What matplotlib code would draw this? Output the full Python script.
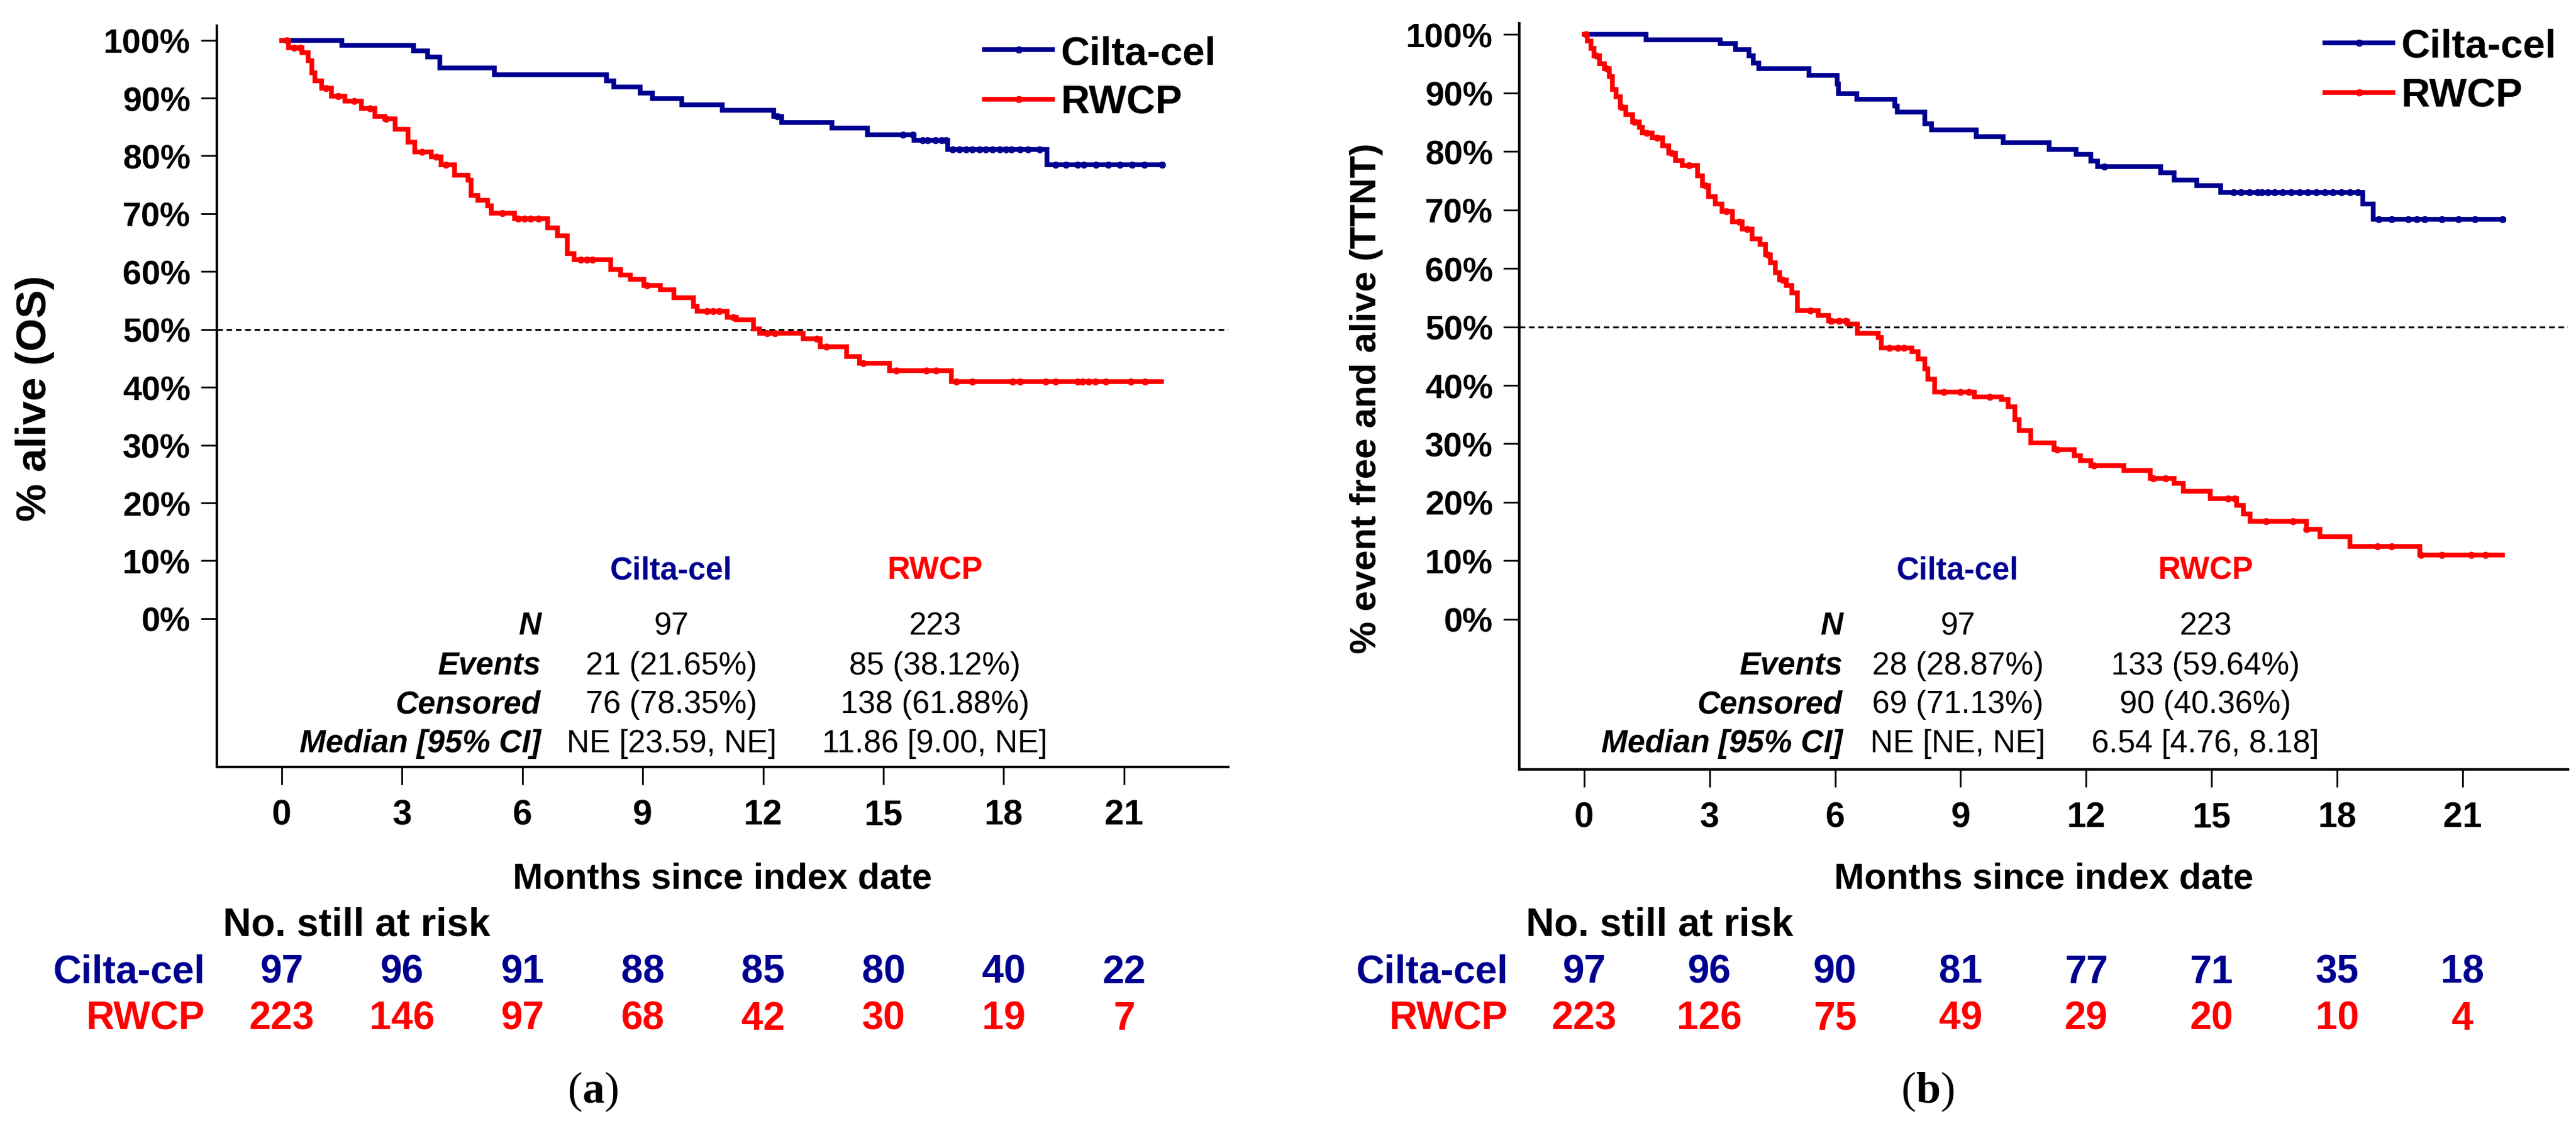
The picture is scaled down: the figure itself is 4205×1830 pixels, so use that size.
import numpy as np
import matplotlib
matplotlib.use("Agg")
import matplotlib.pyplot as plt
import matplotlib.transforms as mtransforms
from matplotlib.lines import Line2D

plt.rcParams['font.family'] = ['Liberation Sans', 'DejaVu Sans']
plt.rcParams['mathtext.fontset'] = 'custom'
plt.rcParams['mathtext.rm'] = 'Liberation Serif'
plt.rcParams['mathtext.bf'] = 'Liberation Serif:bold'

W, H = 4205, 1831
BLUE = '#000090'
RED = '#FF0000'

# ---------------- data ----------------
months = [0, 3, 6, 9, 12, 15, 18, 21]
groups = ['Cilta-cel', 'RWCP']
stat_labels = ['N', 'Events', 'Censored', 'Median [95% CI]']

# (a) overall survival
os_cilta_t = [0, 1.49, 3.28, 3.64, 3.94, 5.30, 8.10, 8.28, 8.94, 9.24, 9.97, 10.98,
              12.26, 12.47, 13.71, 14.60, 15.77, 16.60, 19.08, 21.95]
os_cilta_s = [100, 99.1, 98.2, 97.1, 95.2, 94.0, 93.0, 91.9, 90.9, 89.9, 88.8, 87.9,
              86.8, 85.8, 84.8, 83.7, 82.7, 81.1, 78.5, 78.5]
os_cilta_cens = [12.35, 15.49, 15.73, 15.98, 16.1, 16.3, 16.45, 16.56, 16.73, 16.9, 17.06,
                 17.22, 17.4, 17.55, 17.72, 17.9, 18.05, 18.2, 18.4, 18.6, 18.9, 19.29,
                 19.55, 19.84, 20.0, 20.3, 20.6, 20.9, 21.2, 21.5, 21.95]
os_rwcp_t = [0, 0.17, 0.50, 0.66, 0.75, 0.83, 0.99, 1.24, 1.57, 1.99, 2.32, 2.57, 2.82,
             3.15, 3.31, 3.73, 3.97, 4.31, 4.64, 4.72, 4.89, 5.13, 5.22, 5.80, 6.63, 6.87,
             7.12, 7.29, 8.20, 8.45, 8.69, 9.02, 9.44, 9.77, 10.27, 10.35, 11.10, 11.34,
             11.76, 11.92, 13.00, 13.42, 14.08, 14.41, 15.15, 16.69, 21.94]
os_rwcp_s = [100, 98.7, 97.8, 96.5, 94.3, 93.0, 91.7, 90.3, 89.5, 88.2, 86.8, 86.4, 84.6,
             82.4, 80.7, 79.8, 78.5, 76.7, 75.8, 73.2, 72.3, 71.4, 70.1, 69.1, 67.5, 66.2,
             63.1, 62.0, 60.3, 59.4, 58.7, 57.6, 56.9, 55.5, 54.0, 53.2, 52.1, 51.7,
             50.1, 49.3, 48.4, 47.0, 45.3, 44.2, 42.9, 41.0, 41.0]
os_rwcp_cens = [0.12, 0.3, 0.45, 1.1, 1.4, 1.8, 2.2, 2.6, 3.5, 3.85, 4.1, 5.5, 5.9, 6.05,
                6.2, 6.4, 7.45, 7.6, 7.75, 9.1, 10.6, 10.75, 10.9, 11.26, 12.09, 12.3,
                13.33, 13.58, 14.5, 15.32, 16.07, 16.31, 16.81, 17.22, 18.22, 18.41, 19.05,
                19.29, 19.84, 19.96, 20.12, 20.29, 20.54, 21.17, 21.53]
os_cilta_stats = ['97', '21 (21.65%)', '76 (78.35%)', 'NE [23.59, NE]']
os_rwcp_stats = ['223', '85 (38.12%)', '138 (61.88%)', '11.86 [9.00, NE]']
os_risk_cilta = [97, 96, 91, 88, 85, 80, 40, 22]
os_risk_rwcp = [223, 146, 97, 68, 42, 30, 19, 7]

# (b) time to next treatment
tt_cilta_t = [0, 1.48, 3.25, 3.62, 3.94, 4.05, 4.17, 5.37, 6.05, 6.08, 6.52, 7.43, 7.48,
              8.14, 8.30, 9.38, 10.02, 11.11, 11.76, 12.11, 12.27, 13.78, 14.10, 14.65,
              15.21, 18.62, 18.86, 21.98]
tt_cilta_s = [100, 99.1, 98.4, 97.4, 96.3, 95.1, 94.1, 93.0, 91.5, 89.9, 88.9, 87.8, 86.7,
              84.7, 83.7, 82.5, 81.5, 80.3, 79.5, 78.3, 77.4, 76.3, 75.1, 74.1,
              73.0, 71.0, 68.4, 68.4]
tt_cilta_cens = [12.43, 15.52, 15.7, 15.9, 16.1, 16.2, 16.35, 16.5, 16.7, 16.9, 17.1, 17.3,
                 17.5, 17.7, 17.9, 18.1, 18.3, 18.5, 19.0, 19.3, 19.7, 19.9, 20.1, 20.5,
                 20.9, 21.3, 21.95]
tt_rwcp_t = [0, 0.08, 0.16, 0.24, 0.37, 0.49, 0.60, 0.68, 0.76, 0.87, 1.00, 1.16, 1.32,
             1.40, 1.63, 1.87, 2.03, 2.19, 2.35, 2.71, 2.83, 2.98, 3.14, 3.30, 3.54, 3.78,
             4.02, 4.21, 4.33, 4.46, 4.57, 4.68, 4.84, 4.97, 5.10, 5.60, 5.84, 6.30, 6.54,
             7.03, 7.11, 7.83, 7.98, 8.14, 8.22, 8.38, 9.33, 9.97, 10.13, 10.29, 10.40,
             10.68, 11.24, 11.71, 11.87, 12.11, 12.90, 13.54, 14.10, 14.33, 14.97, 15.60,
             15.76, 15.92, 17.27, 17.59, 18.30, 19.97, 21.95]
tt_rwcp_s = [100, 98.9, 97.6, 96.3, 95.0, 94.1, 92.8, 90.6, 89.3, 87.6, 86.3, 85.0, 84.1,
             83.2, 82.3, 81.0, 79.7, 78.4, 77.6, 75.8, 74.1, 72.3, 71.0, 69.7, 68.0, 66.7,
             65.0, 64.1, 62.3, 61.0, 59.3, 58.0, 57.1, 55.8, 52.8, 51.9, 51.0, 50.5, 48.9,
             48.2, 46.4, 45.8, 44.5, 42.8, 41.0, 38.9, 38.0, 37.6, 36.3, 34.1, 32.3,
             30.2, 29.0, 28.0, 27.1, 26.3, 25.4, 24.1, 23.2, 21.9, 20.6, 19.5,
             18.0, 16.7, 15.4, 14.1, 12.5, 11.0, 11.0]
tt_rwcp_cens = [0.05, 0.3, 0.55, 0.9, 1.2, 1.5, 1.75, 2.1, 2.5, 2.9, 3.4, 3.7, 3.9, 4.4,
                4.75, 5.4, 5.9, 6.1, 6.25, 7.3, 7.5, 7.65, 8.6, 9.0, 9.2, 9.7, 11.3, 12.19,
                13.6, 13.9, 15.4, 15.55, 16.3, 16.95, 17.27, 18.97, 19.3, 20.0, 20.5,
                21.2, 21.55]
tt_cilta_stats = ['97', '28 (28.87%)', '69 (71.13%)', 'NE [NE, NE]']
tt_rwcp_stats = ['223', '133 (59.64%)', '90 (40.36%)', '6.54 [4.76, 8.18]']
tt_risk_cilta = [97, 96, 90, 81, 77, 71, 35, 18]
tt_risk_rwcp = [223, 126, 75, 49, 29, 20, 10, 4]


def fx(px):
    return px / W


def fy(py):
    return 1 - py / H


fig = plt.figure(figsize=(W / 100, H / 100), dpi=100)
fig.patch.set_facecolor('white')


def km(ax, t, s, cens, color):
    t = np.asarray(t)
    s = np.asarray(s)
    ax.step(t, s, where='post', color=color, lw=5.5, solid_joinstyle='miter', zorder=3)
    idx = np.searchsorted(t, cens, side='right') - 1
    ax.plot(cens, s[idx], ls='none', marker='o', ms=6.5, mfc='none', mec=color,
            mew=1.8, zorder=4)


def panel(rect, xlim, ylim, curves, ylabel, ylab_x, ylab_size,
          stat_x, stats, risk, risk_lab_x, letter, letter_x, leg_xy):
    ax = fig.add_axes(rect)
    for t, s, c, col in curves:
        km(ax, t, s, c, col)
    ax.axhline(50, color='black', lw=2.2, ls=(0, (3, 2)), zorder=2)
    ax.set_xlim(*xlim)
    ax.set_ylim(*ylim)
    for side in ['top', 'right']:
        ax.spines[side].set_visible(False)
    for side in ['left', 'bottom']:
        ax.spines[side].set_linewidth(3)
    ax.set_xticks(months)
    ax.set_xticklabels([str(m) for m in months], fontsize=41, fontweight='bold')
    ax.set_yticks(range(0, 101, 10))
    ax.set_yticklabels([f'{v}%' for v in range(0, 101, 10)], fontsize=40,
                       fontweight='bold')
    ax.tick_params(axis='x', direction='out', length=21, width=2, pad=16)
    ax.tick_params(axis='y', direction='out', length=19, width=2, pad=12)

    handles = [Line2D([], [], color=BLUE, lw=5.5, marker='o', ms=7, mfc='none', mew=1.5),
               Line2D([], [], color=RED, lw=5.5, marker='o', ms=7, mfc='none', mew=1.5)]
    ax.legend(handles, groups, loc='upper right',
              bbox_to_anchor=(fx(leg_xy[0]), fy(leg_xy[1])),
              bbox_transform=fig.transFigure,
              frameon=False, prop={'size': 47, 'weight': 'bold'}, handlelength=1.7,
              handletextpad=0.2, labelspacing=0.32, borderpad=0, borderaxespad=0,
              numpoints=1)

    # axis titles
    fig.text(fx(ylab_x), fy(650), ylabel, rotation=90, ha='center', va='center',
             fontsize=ylab_size, fontweight='bold')
    ax.text(0.5, fy(1435), 'Months since index date', ha='center', va='center',
            fontsize=42.5, fontweight='bold',
            transform=mtransforms.blended_transform_factory(ax.transAxes, fig.transFigure))

    # summary table inside the plot
    lab_x, c_x, r_x = stat_x
    fig.text(fx(c_x), fy(932), groups[0], ha='center', va='center', fontsize=37,
             fontweight='bold', color=BLUE)
    fig.text(fx(r_x), fy(932), groups[1], ha='center', va='center', fontsize=37,
             fontweight='bold', color=RED)
    for i, lab in enumerate(stat_labels):
        yy = fy(1023 + 64 * i)
        fig.text(fx(lab_x), yy, lab, ha='right', va='center', fontsize=37,
                 fontweight='bold', fontstyle='italic')
        fig.text(fx(c_x), yy, stats[0][i], ha='center', va='center', fontsize=37)
        fig.text(fx(r_x), yy, stats[1][i], ha='center', va='center', fontsize=37)

    # number at risk
    fig.text(fx(risk_lab_x + 29), fy(1511), 'No. still at risk', ha='left', va='center',
             fontsize=46, fontweight='bold')
    bt = mtransforms.blended_transform_factory(ax.transData, fig.transFigure)
    for row, (vals, col, py) in enumerate(zip(risk, [BLUE, RED], [1588, 1664])):
        fig.text(fx(risk_lab_x), fy(py), groups[row], ha='right', va='center',
                 fontsize=46, fontweight='bold', color=col)
        for m, v in zip(months, vals):
            ax.text(m, fy(py), str(v), ha='center', va='center', fontsize=46,
                    fontweight='bold', color=col, transform=bt)

    fig.text(fx(letter_x), fy(1782), r'($\mathbf{' + letter + '}$)', ha='center',
             va='center', fontsize=52, family='Liberation Serif')
    return ax


panel([fx(354), fy(1253), fx(2005) - fx(354), fy(43) - fy(1253)],
      (-1.62, 23.6), (-25.64, 102.5),
      [(os_cilta_t, os_cilta_s, os_cilta_cens, BLUE),
       (os_rwcp_t, os_rwcp_s, os_rwcp_cens, RED)],
      '% alive (OS)', 57, 50,
      (883, 1096, 1526), (os_cilta_stats, os_rwcp_stats),
      (os_risk_cilta, os_risk_rwcp), 335, 'a', 968, (1985, 58))

panel([fx(2480), fy(1257), fx(4192) - fx(2480), fy(39) - fy(1257)],
      (-1.55, 23.52), (-25.67, 101.9),
      [(tt_cilta_t, tt_cilta_s, tt_cilta_cens, BLUE),
       (tt_rwcp_t, tt_rwcp_s, tt_rwcp_cens, RED)],
      '% event free and alive (TTNT)', 2230, 43,
      (3008, 3196, 3600), (tt_cilta_stats, tt_rwcp_stats),
      (tt_risk_cilta, tt_risk_rwcp), 2462, 'b', 3147, (4173, 47))

fig.savefig('out.png', dpi=100, facecolor='white')
